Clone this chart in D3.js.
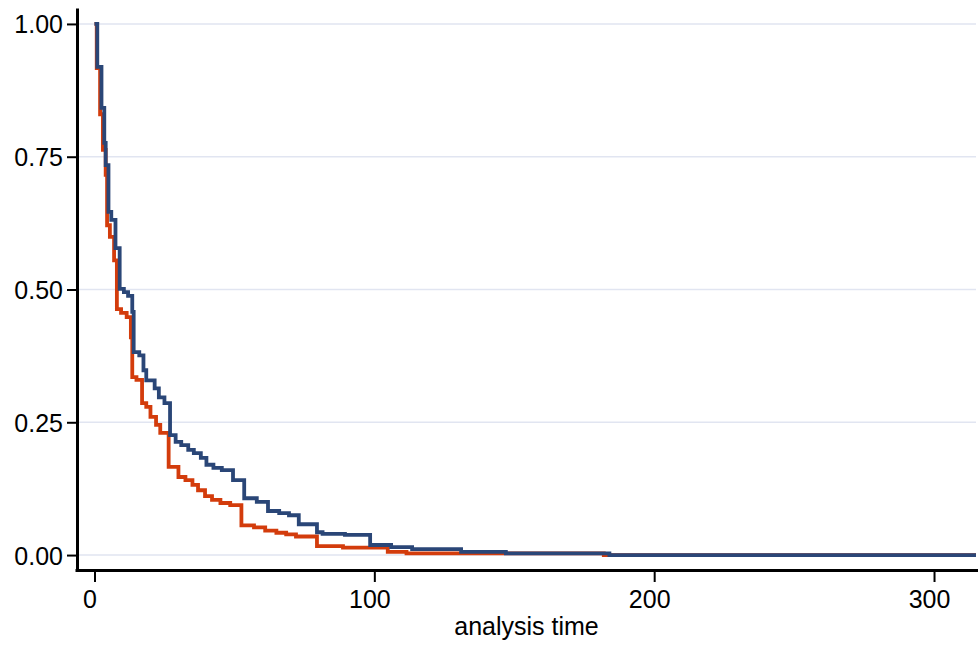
<!DOCTYPE html>
<html>
<head>
<meta charset="utf-8">
<script src="https://cdn.jsdelivr.net/npm/d3@7"></script>
<style>
  body { margin: 0; background: #fff; }
  svg { display: block; font-family: "Liberation Sans", Arial, Helvetica, sans-serif; }
  .axis .domain { stroke: #000; stroke-width: 3; }
  .axis .tick line { stroke: #000; stroke-width: 2; }
  .axis .tick text { fill: #000; font-size: 25px; }
</style>
</head>
<body>
<svg id="chart" width="978" height="645"></svg>
<script>
// ---- data: step points [time, survival] ----
const group1Times = [0, 0.8, 2, 3, 4, 4.5, 5.5, 7, 8, 9.5, 11.5, 13, 13.5, 15, 17, 18.5, 20, 22, 23.5, 26.5,
  30, 32.5, 35, 37, 39.5, 42, 45, 48.5, 52.5, 57, 61, 65, 68.5, 72, 79.5, 88.8, 104.8, 111.5, 182, 315];
const group1Surv = [1, 0.917, 0.83, 0.763, 0.716, 0.621, 0.599, 0.555, 0.463, 0.456, 0.448, 0.41, 0.335, 0.33, 0.286, 0.279, 0.26, 0.245, 0.23, 0.166,
  0.147, 0.141, 0.132, 0.122, 0.111, 0.104, 0.098, 0.094, 0.056, 0.052, 0.046, 0.042, 0.039, 0.035, 0.017, 0.014, 0.006, 0.003, 0, 0];

const group2Times = [0, 1, 2.5, 3.5, 4, 5, 6, 7.5, 9, 10.5, 12, 13.5, 14, 16, 17.5, 18.5, 21.5, 23, 25, 27,
  29, 31, 33.5, 35.5, 38, 40, 42.5, 45.5, 49.5, 53.5, 58, 62, 66, 69.5, 73, 79.5, 81.5, 89.5, 98.5, 106, 113.5, 131, 147, 184, 315];
const group2Surv = [1, 0.919, 0.842, 0.776, 0.734, 0.646, 0.631, 0.578, 0.501, 0.495, 0.488, 0.458, 0.382, 0.376, 0.348, 0.329, 0.314, 0.297, 0.286, 0.226,
  0.213, 0.207, 0.198, 0.192, 0.183, 0.17, 0.164, 0.16, 0.141, 0.107, 0.1, 0.083, 0.079, 0.075, 0.058, 0.043, 0.04, 0.038, 0.019, 0.015, 0.011, 0.006, 0.003, 0, 0];

const yTicks = [0, 0.25, 0.5, 0.75, 1];
const xTicks = [0, 100, 200, 300];
const xTitle = "analysis time";

// ---- layout ----
const svg = d3.select('#chart');
const plotLeft = 77, plotRight = 976, plotTop = 8, plotBottom = 571;

const x = d3.scaleLinear().domain([-6.25, 315]).range([plotLeft, plotRight]);
const y = d3.scaleLinear().domain([-0.03, 1.03]).range([plotBottom, plotTop]);

// gridlines
svg.append('g')
  .selectAll('line')
  .data(yTicks)
  .join('line')
  .attr('x1', plotLeft + 2).attr('x2', plotRight)
  .attr('y1', d => y(d)).attr('y2', d => y(d))
  .attr('stroke', '#e1e5f1')
  .attr('stroke-width', 1.6);

// curves
const line = d3.line()
  .x(d => x(d[0]))
  .y(d => y(d[1]))
  .curve(d3.curveStepAfter);

const series = [
  { times: group1Times, surv: group1Surv, color: '#d33c0c' },
  { times: group2Times, surv: group2Surv, color: '#2a4677' }
];

series.forEach(s => {
  const pts = s.times.map((t, i) => [t, s.surv[i]]);
  svg.append('path')
    .datum(pts)
    .attr('fill', 'none')
    .attr('stroke', s.color)
    .attr('stroke-width', 3.8)
    .attr('stroke-linejoin', 'miter')
    .attr('d', line);
});

// axes
const yAxis = svg.append('g')
  .attr('class', 'axis')
  .attr('transform', `translate(${plotLeft},0)`)
  .call(d3.axisLeft(y).tickValues(yTicks).tickFormat(d3.format('.2f')).tickSize(10).tickSizeOuter(0).tickPadding(4));
yAxis.selectAll('.tick text').attr('dy', '0.36em');

const xAxis = svg.append('g')
  .attr('class', 'axis')
  .attr('transform', `translate(0,${plotBottom - 1})`)
  .call(d3.axisBottom(x).tickValues(xTicks).tickSize(12).tickSizeOuter(0).tickPadding(8));
xAxis.select('.domain').attr('d', `M${plotLeft - 1.5},0.5H${plotRight + 2}`);
xAxis.selectAll('.tick text').attr('dx', -5);

// axis title
svg.append('text')
  .attr('x', (plotLeft + plotRight) / 2)
  .attr('y', 635)
  .attr('text-anchor', 'middle')
  .attr('font-size', 25)
  .attr('fill', '#000')
  .text(xTitle);
</script>
</body>
</html>
